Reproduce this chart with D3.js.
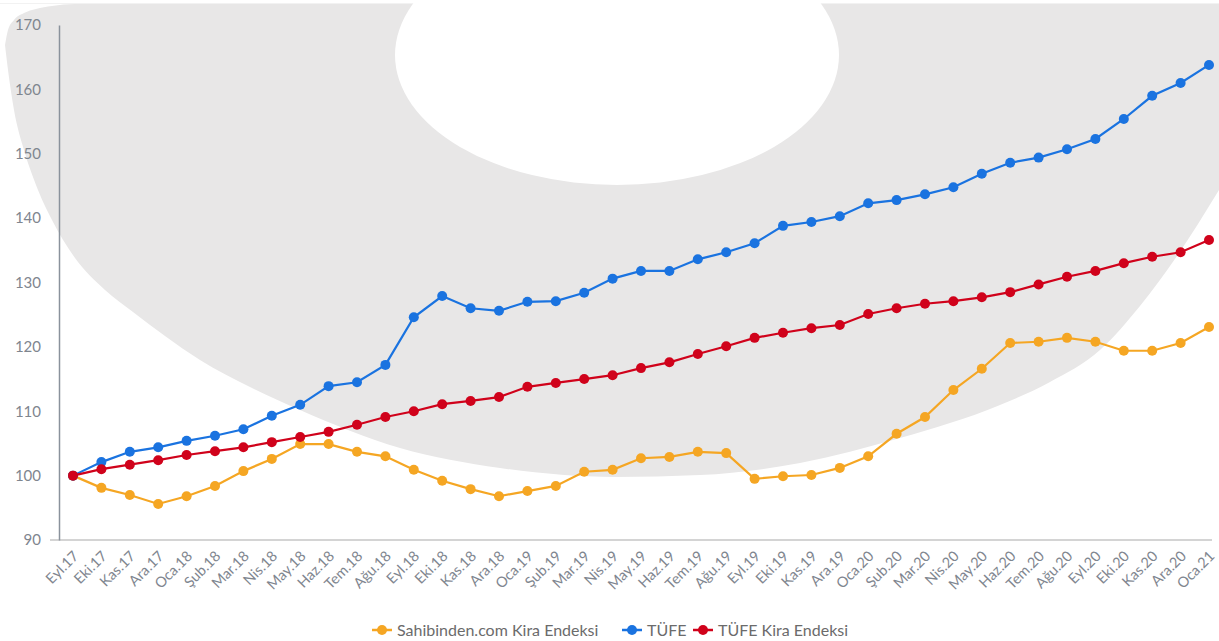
<!DOCTYPE html>
<html><head><meta charset="utf-8">
<script src="https://cdn.jsdelivr.net/npm/d3@7"></script>
<style>
html,body{margin:0;padding:0;background:#fff;}
svg{display:block;font-family:Lato,"Open Sans",sans-serif;}
</style></head>
<body>
<svg id="chart" width="1219" height="641"></svg>
<script>
const months = ["Eyl.17","Eki.17","Kas.17","Ara.17","Oca.18","Şub.18","Mar.18","Nis.18","May.18","Haz.18","Tem.18","Ağu.18",
"Eyl.18","Eki.18","Kas.18","Ara.18","Oca.19","Şub.19","Mar.19","Nis.19","May.19","Haz.19","Tem.19","Ağu.19",
"Eyl.19","Eki.19","Kas.19","Ara.19","Oca.20","Şub.20","Mar.20","Nis.20","May.20","Haz.20","Tem.20","Ağu.20",
"Eyl.20","Eki.20","Kas.20","Ara.20","Oca.21"];
const sahibinden = [100,98.1,97.0,95.6,96.8,98.4,100.7,102.6,104.9,104.9,103.7,103.0,
100.9,99.2,97.9,96.8,97.6,98.4,100.6,100.9,102.7,102.9,103.7,103.5,
99.5,99.9,100.1,101.2,103.0,106.5,109.1,113.3,116.6,120.6,120.8,121.4,
120.8,119.4,119.4,120.6,123.1];
const tufe = [100,102.1,103.7,104.4,105.4,106.2,107.2,109.3,111.0,113.9,114.5,117.2,
124.6,127.9,126.0,125.6,127.0,127.1,128.4,130.6,131.8,131.8,133.6,134.7,
136.1,138.8,139.4,140.3,142.3,142.8,143.7,144.8,146.9,148.6,149.4,150.7,
152.3,155.4,159.0,161.0,163.8];
const tufeKira = [100,101.0,101.7,102.4,103.2,103.8,104.4,105.2,106.0,106.8,107.9,109.1,
110.0,111.1,111.6,112.2,113.8,114.4,115.0,115.6,116.7,117.6,118.9,120.1,
121.4,122.2,122.9,123.4,125.1,126.0,126.7,127.1,127.7,128.5,129.7,130.9,
131.8,133.0,134.0,134.7,136.6];
const yTicks = [90,100,110,120,130,140,150,160,170];
const seriesNames = ["Sahibinden.com Kira Endeksi","TÜFE","TÜFE Kira Endeksi"];
const seriesColors = ["#f5a623","#1a73e0","#d0021b"];

const series = [
  {name: seriesNames[0], values: sahibinden, color: seriesColors[0]},
  {name: seriesNames[1], values: tufe, color: seriesColors[1]},
  {name: seriesNames[2], values: tufeKira, color: seriesColors[2]}
];

const svg = d3.select("#chart");

// background watermark (decoration)
const bgPts = [[5,45,45],[8,30,70],[14,20,110],[24,13,150],[36,9,185],[52,6,220],[75,4,258],[105,4,290],
  [133,4,312],[165,4,336],[200,4,360],[250,4,387],[300,4,410],[400,4,448],[500,4,468],[615,4,477],
  [700,4,475],[800,4,463],[900,4,438],[1000,4,405],[1050,4,382],[1100,4,350],[1140,4,306],[1177,4,256],[1219,4,190]];
const bg = svg.append("g");
bg.append("path")
  .attr("d", d3.area().curve(d3.curveMonotoneX).x(d=>d[0]).y0(d=>d[1]).y1(d=>d[2])(bgPts))
  .attr("fill", "#e8e7e7");
bg.append("line").attr("x1",0).attr("x2",1219).attr("y1",3.5).attr("y2",3.5).attr("stroke","#f2f2f2");
bg.append("ellipse").attr("cx",617).attr("cy",55).attr("rx",222).attr("ry",130).attr("fill","#fff");

const x = d3.scalePoint().domain(months).range([73,1209]);
const y = d3.scaleLinear().domain([90,170]).range([540,25]);

// x axis baseline
svg.append("line").attr("x1",50).attr("x2",1212).attr("y1",y(90)).attr("y2",y(90))
  .attr("stroke","#d4d4d4").attr("stroke-width",2);
// y axis
const yAxis = d3.axisLeft(y).tickValues(yTicks).tickSize(0).tickPadding(18);
const gy = svg.append("g").attr("transform","translate(59,0)").call(yAxis);
gy.select(".domain").attr("stroke","#8a929c").attr("stroke-width",1.5);
gy.selectAll("text").attr("fill","#7f868f").attr("font-size",15).attr("font-family","Lato");

// x axis labels
const xAxis = d3.axisBottom(x).tickSize(0).tickPadding(0);
const gx = svg.append("g").attr("transform",`translate(0,${y(90)})`).call(xAxis);
gx.select(".domain").remove();
gx.selectAll("text")
  .attr("fill","#7f868f").attr("font-size",14.5).attr("font-family","Lato")
  .attr("text-anchor","end").attr("dy",0)
  .attr("transform","translate(6,17) rotate(-45)");

// lines
const line = d3.line().x((d,i)=>x(months[i])).y(d=>y(d));
const gs = svg.append("g");
series.forEach(s=>{
  gs.append("path").attr("d", line(s.values)).attr("fill","none")
    .attr("stroke", s.color).attr("stroke-width",2.2);
  gs.selectAll(null).data(s.values).enter().append("circle")
    .attr("cx",(d,i)=>x(months[i])).attr("cy",d=>y(d)).attr("r",5).attr("fill",s.color);
});

// legend
const legend = svg.append("g").attr("transform","translate(0,630)");
const legendX = [372, 622, 693];
series.forEach((s,i)=>{
  const g = legend.append("g").attr("transform",`translate(${legendX[i]},0)`);
  g.append("line").attr("x1",0).attr("x2",20).attr("y1",0).attr("y2",0).attr("stroke",s.color).attr("stroke-width",2.5);
  g.append("circle").attr("cx",10).attr("cy",0).attr("r",5).attr("fill",s.color);
  g.append("text").attr("x",25).attr("y",5.5).text(s.name)
    .attr("fill","#6b6b6b").attr("font-size",16).attr("font-family","Lato");
});
</script>
</body></html>
